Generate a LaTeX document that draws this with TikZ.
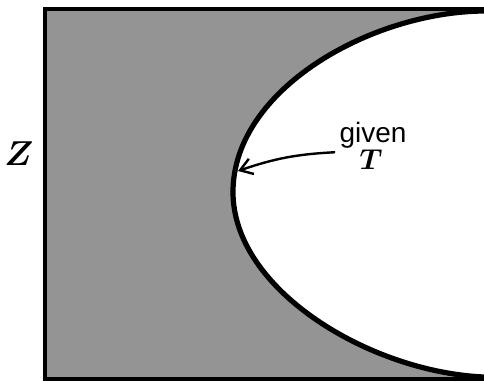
\documentclass[tikz,border=0pt]{standalone}
\usepackage{fontspec}
\usepackage{tikz}
\usetikzlibrary{arrows.meta,calc}
\newfontfamily\givenfont{Liberation Sans}
\tikzset{
  >={Straight Barb[length=6pt,width=8pt]},
  region/.style={fill=black!42},
  frame/.style={line width=2pt,line cap=rect},
  bound/.style={line width=2.6pt},
  pointer/.style={->,line width=1.2pt},
  varlbl/.style={font=\fontsize{16}{18}\selectfont\boldmath,inner sep=0pt},
  givenlbl/.style={font=\givenfont\fontsize{14}{16}\selectfont,inner sep=2pt,
    anchor=base},
  tlbl/.style={font=\fontsize{14}{16}\selectfont\boldmath,inner sep=0pt},
}

\begin{document}
\begin{tikzpicture}[x=0.5pt,y=-0.5pt]
  \useasboundingbox (0,0) rectangle (484,382);
  \coordinate (top) at (484,11);
  \coordinate (vx) at (233,192);
  \coordinate (bot) at (484,377);
  % shaded region outside the boundary
  \fill[region] (45,9) -- (484,9) -- (top)
    .. controls (370,12) and (233,90) .. (vx)
    .. controls (233,290) and (370,372) .. (bot)
    -- (484,379) -- (45,379) -- cycle;
  \draw[frame] (484,9) -- (45,9) -- (45,379) -- (484,379);
  \draw[bound] (top) .. controls (370,12) and (233,90) .. (vx)
    .. controls (233,290) and (370,372) .. (bot);
  \node[varlbl] (zlbl) at (19,154) {$Z$};
  \node[givenlbl] (given) at (373,142) {given};
  \node[tlbl] (tlbl) at (371,160) {$T$};
  \coordinate (tip) at (238,171);
  \draw[pointer] (given.south west) to[bend right=8] (tip);
\end{tikzpicture}
\end{document}
